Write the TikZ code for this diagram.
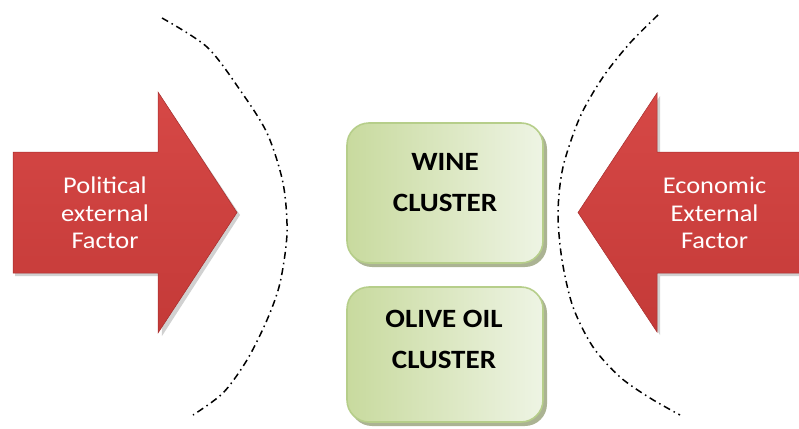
\documentclass[tikz,border=0pt]{standalone}
\usepackage{fontspec}
\setmainfont{Carlito}
\newfontfamily\labelfont[FakeStretch=1.1]{Carlito}
\usetikzlibrary{shadings}
\definecolor{redtop}{RGB}{214,72,70}
\definecolor{redbot}{RGB}{196,58,56}
\definecolor{rededge}{RGB}{165,45,45}
\definecolor{boxdark}{RGB}{200,218,158}
\definecolor{boxlight}{RGB}{238,244,228}
\definecolor{boxedge}{RGB}{182,206,138}
\definecolor{boxshadow}{RGB}{150,160,120}
\tikzset{
  redarrow/.style={top color=redtop, bottom color=redbot, draw=rededge, line width=0.5pt, line join=miter},
  arrowshadow/.style={fill=black, opacity=0.18},
  clusterbox/.style={left color=boxdark, right color=boxlight, draw=boxedge, line width=1.6pt, rounded corners=22pt},
  boxshadowst/.style={fill=boxshadow, opacity=0.8, rounded corners=22pt},
  boundary/.style={line width=1.5pt, dash pattern=on 7pt off 4pt on 1.5pt off 4pt},
  arrowtext/.style={text=white, align=center, font=\labelfont\fontsize{24}{27.5}\selectfont, inner sep=0pt},
  clustertext/.style={text=black, align=center, font=\labelfont\bfseries\fontsize{26.4}{41}\selectfont, inner sep=0pt}
}
\begin{document}
\begin{tikzpicture}[x=1pt, y=-1pt]
\useasboundingbox (0,0) rectangle (799,428);

% dash-dot boundaries around the clusters
\draw[boundary] plot[smooth] coordinates {(162,18) (207,47) (240,90) (267,133) (283,183) (287,233) (280,283) (267,320) (247,360) (223,393) (193,415)};
\draw[boundary] plot[smooth] coordinates {(658,15) (630,43) (603,77) (580,117) (563,167) (558,213) (562,260) (573,307) (593,347) (620,377) (650,398) (680,415)};

% left arrow: political factor
\fill[arrowshadow] (15,155) -- (160,155) -- (160,95) -- (240,215) -- (162,336) -- (160,276) -- (15,276) -- cycle;
\path[redarrow] (13,152) -- (158,152) -- (158,92) -- (237,212.5) -- (158,333) -- (158,273) -- (13,273) -- cycle;
\node[arrowtext] (political) at (105,213) {Political\\external\\Factor};

% right arrow: economic factor
\fill[arrowshadow] (805,155) -- (660,155) -- (660,96) -- (581,215) -- (660,335) -- (660,276) -- (805,276) -- cycle;
\path[redarrow] (805,152) -- (657,152) -- (657,93) -- (578,212.5) -- (657,332) -- (657,273) -- (805,273) -- cycle;
\node[arrowtext] (economic) at (714.5,213) {Economic\\External\\Factor};

% cluster boxes
\fill[boxshadowst] (350,127) rectangle (547,267);
\path[clusterbox] (347,123) rectangle (543,263);
\node[clustertext] (wine) at (445,182.5) {WINE\\CLUSTER};

\fill[boxshadowst] (350,291) rectangle (547,426);
\path[clusterbox] (347,287) rectangle (543,422);
\node[clustertext] (olive) at (444,339) {OLIVE OIL\\CLUSTER};
\end{tikzpicture}
\end{document}
